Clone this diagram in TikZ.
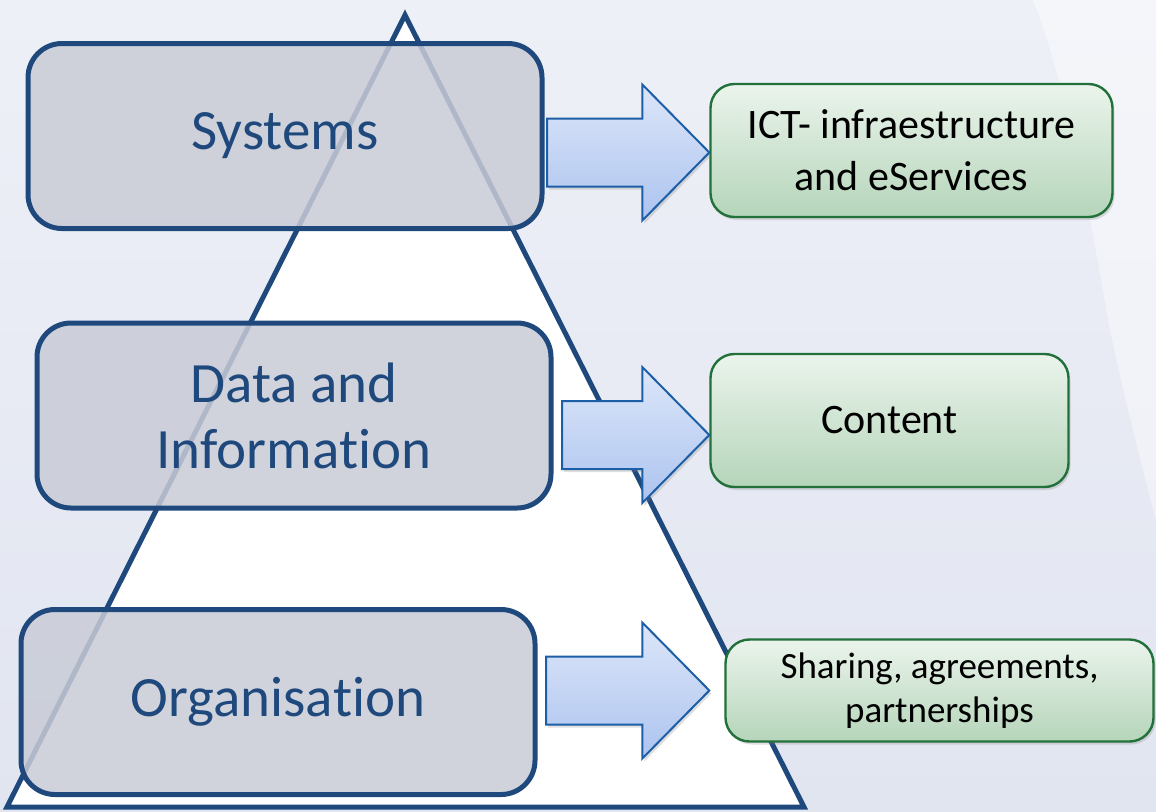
\documentclass[tikz,border=0pt]{standalone}
\usepackage{fontspec}
\setmainfont{Carlito}[RawFeature={-liga;-clig;-calt;-dlig}]
\usepackage{tikz}
\usetikzlibrary{calc, shadows}

\definecolor{tierblue}{HTML}{1F497D}
\definecolor{tierfill}{HTML}{C9CCD6}
\definecolor{flowedge}{HTML}{1C5FA6}
\definecolor{flowtop}{HTML}{DCE6F9}
\definecolor{flowbottom}{HTML}{ADC4EF}
\definecolor{outedge}{HTML}{22703A}
\definecolor{outtop}{HTML}{EBF4EC}
\definecolor{outbottom}{HTML}{B5D5BA}
\definecolor{bgtop}{HTML}{EEF0F7}
\definecolor{bgbottom}{HTML}{E1E5F0}

% block arrow from a tier box to its outcome box
\newcommand{\flowarrow}[2]{%
    \draw[flow] let \p1 = (#1), \p2 = (#2) in
        (\x1,\y2+17pt) -- (\x2-33.5pt,\y2+17pt) -- (\x2-33.5pt,\y2+34pt)
        -- (\x2,\y2) -- (\x2-33.5pt,\y2-34pt) -- (\x2-33.5pt,\y2-17pt)
        -- (\x1,\y2-17pt) -- cycle;
}

\begin{document}
\begin{tikzpicture}[
            x = 0.5pt, y = -0.5pt, % pixel grid, y going down
            line join = miter
        ]

        \tikzstyle{tier}=[
            draw = tierblue,
            line width = 2.5pt,
            rounded corners = 17pt,
            fill = tierfill,
            fill opacity = 0.85,
            text opacity = 1,
            text = tierblue,
            minimum width = 257pt,
            minimum height = 92.5pt,
            align = center,
            font = \fontsize{28.5}{33}\selectfont
        ]
        \tikzstyle{outcome}=[
            draw = outedge,
            line width = 1.2pt,
            rounded corners = 12pt,
            top color = outtop,
            bottom color = outbottom,
            drop shadow = {opacity = 0.25, shadow xshift = 1pt, shadow yshift = -1.5pt},
            minimum height = 66.5pt,
            align = center,
            font = \fontsize{21}{26}\selectfont
        ]
        \tikzstyle{flow}=[
            draw = flowedge,
            line width = 1pt,
            top color = flowtop,
            bottom color = flowbottom,
            drop shadow = {opacity = 0.25, shadow xshift = 1pt, shadow yshift = -1.5pt}
        ]

        \useasboundingbox (0,0) rectangle (1156,811);

        % background
        \fill[top color = bgtop, bottom color = bgbottom] (0,0) rectangle (1156,811);
        \fill[white, opacity = 0.4] (1033,0) .. controls (1075,110) and (1095,250) .. (1110,330)
            .. controls (1125,400) and (1140,460) .. (1156,520) -- (1156,0) -- cycle;

        % pyramid
        \draw[draw = tierblue, line width = 2.5pt, fill = white]
            (405,15) -- (804,807) -- (7,807) -- cycle;

        % tiers
        \node[tier] (sys) at (285,136) {Systems};
        \node[tier] (data) at (294,415.5) {Data and\\Informa\kern0pt tion};
        \node[tier] (org) at (278,702) {Organisa\kern0pt tion};

        % outcomes
        \node[outcome, minimum width = 201pt] (ict) at (911.5,150.5) {ICT- infraestructure\\and eServices};
        \node[outcome, minimum width = 179pt] (content) at (889.5,420.5) {Content};
        \node[outcome, minimum width = 214pt, minimum height = 51pt,
            font = \fontsize{18.5}{22}\selectfont] (share) at (939.5,690.5) {Sharing, agreements,\\partnerships};

        % arrows
        \flowarrow{[xshift=1.25pt]sys.east}{[yshift=-1pt]ict.west}
        \flowarrow{[xshift=4.25pt]data.east}{[yshift=-7.25pt]content.west}
        \flowarrow{[xshift=4.25pt]org.east}{[xshift=-7.5pt]share.west}

  \end{tikzpicture}
\end{document}
